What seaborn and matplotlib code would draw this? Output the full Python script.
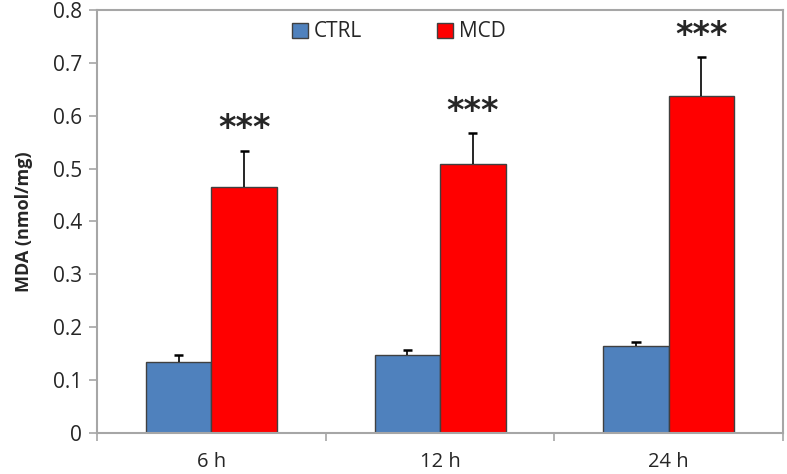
import numpy as np
import pandas as pd
import matplotlib
matplotlib.use("Agg")
import matplotlib.pyplot as plt
import seaborn as sns

times = ["6 h", "12 h", "24 h"]
groups = ["CTRL", "MCD"]
ctrl_mean = [0.135, 0.147, 0.164]
ctrl_err = [0.012, 0.010, 0.009]
mcd_mean = [0.466, 0.509, 0.637]
mcd_err = [0.068, 0.058, 0.074]
stars = ["***", "***", "***"]

colors = {"CTRL": "#4F81BD", "MCD": "#FF0000"}
grey = "#A6A6A6"

df = pd.DataFrame({
    "time": times * 2,
    "group": ["CTRL"] * 3 + ["MCD"] * 3,
    "mda": ctrl_mean + mcd_mean,
    "err": ctrl_err + mcd_err,
})

sns.set_style("white")
plt.rcParams["font.family"] = ["Open Sans", "DejaVu Sans"]

fig = plt.figure(figsize=(7.87, 4.74), dpi=100)
ax = fig.add_axes([0.1233, 0.0865, 0.8717, 0.8925])

sns.barplot(data=df, x="time", y="mda", hue="group", order=times,
            hue_order=groups, palette=colors, width=0.573, gap=0,
            edgecolor="#404040", linewidth=1.0, errorbar=None,
            saturation=1, ax=ax)

# upward-only error bars and significance stars
for cont, g in zip(ax.containers, groups):
    sub = df[df["group"] == g].set_index("time").loc[times]
    xs = np.array([p.get_x() + p.get_width() / 2 for p in cont.patches])
    tops = sub["mda"].values + sub["err"].values
    ax.vlines(xs, sub["mda"].values, tops, color="black", lw=1.2, zorder=5)
    ax.hlines(tops, xs - 0.02, xs + 0.02, color="black", lw=1.8, zorder=5)
    if g == "MCD":
        for x, t, s in zip(xs, tops, stars):
            ax.text(x, t + 0.01, s, ha="center", va="bottom",
                    fontsize=24, fontweight="bold", family="DejaVu Sans")

ax.set_ylim(0, 0.8)
ax.set_yticks(np.arange(0, 0.81, 0.1))
ax.set_yticklabels(["0"] + [f"{v:.1f}" for v in np.arange(0.1, 0.81, 0.1)])
ax.set_xlim(-0.5, 2.5)
ax.set_xticks([-0.5, 0.5, 1.5, 2.5])
ax.set_xticklabels([])
ax.set_xticks([0, 1, 2], minor=True)
ax.set_xticklabels(times, minor=True)
ax.tick_params(axis="x", which="major", length=6, color=grey, width=1.2,
               direction="out", bottom=True)
ax.tick_params(axis="x", which="minor", length=0, pad=14, labelsize=14.5)
ax.tick_params(axis="y", length=6, color=grey, width=1.2, direction="out",
               left=True, labelsize=15, pad=5)
ax.set_xlabel("")
ax.set_ylabel("MDA (nmol/mg)", fontsize=13, fontweight="bold", labelpad=14)

for sp in ax.spines.values():
    sp.set_color(grey)
    sp.set_linewidth(1.5)

ax.legend(loc="upper center", bbox_to_anchor=(0.44, 1.0), ncol=2,
          frameon=False, fontsize=15, handlelength=0.75, handleheight=0.75,
          handletextpad=0.3, columnspacing=3.6, borderaxespad=0.15)

fig.savefig("out.png", dpi=100)
